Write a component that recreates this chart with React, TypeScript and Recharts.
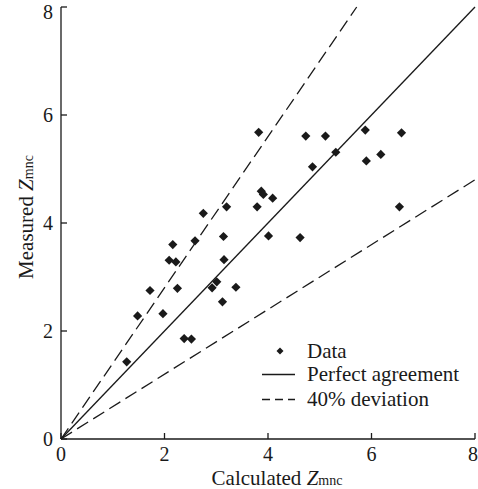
import React from 'react';
import {
  ComposedChart,
  Scatter,
  Line,
  XAxis,
  YAxis,
} from 'recharts';

const calculated = [
  3.82, 3.87, 3.91, 3.79, 3.2, 2.75, 4.01, 3.14, 2.59, 2.16, 2.09, 2.22,
  3.15, 1.72, 2.25, 2.92, 3.01, 3.38, 3.12, 1.48, 1.97, 2.38, 2.52, 1.27,
  4.73, 5.11, 5.88, 6.58, 5.31, 4.86, 5.9, 6.18, 4.09, 6.54, 4.62,
];
const measured = [
  5.68, 4.59, 4.53, 4.3, 4.3, 4.18, 3.76, 3.75, 3.67, 3.6, 3.31, 3.28,
  3.32, 2.75, 2.79, 2.8, 2.91, 2.81, 2.54, 2.28, 2.32, 1.86, 1.85, 1.43,
  5.61, 5.61, 5.72, 5.67, 5.31, 5.04, 5.15, 5.27, 4.46, 4.3, 3.73,
];

// reference lines: y = x and +/- 40 %
const perfectX = [0, 8];
const perfectY = [0, 8];
const upperX = [0, 5.714];
const upperY = [0, 8];
const lowerX = [0, 8];
const lowerY = [0, 4.8];

const ticks = [0, 2, 4, 6, 8];

const toPoints = (xs: number[], ys: number[]) => xs.map((x, i) => ({ x, y: ys[i] }));

const points = toPoints(calculated, measured);
const perfect = toPoints(perfectX, perfectY);
const upper = toPoints(upperX, upperY);
const lower = toPoints(lowerX, lowerY);

const FONT = "'Liberation Serif', 'DejaVu Serif', 'Times New Roman', serif";
const INK = '#1a1a1a';
const DASH = '13 6';

const Diamond = (props: any) => {
  const { cx, cy } = props;
  if (cx == null || cy == null) return null;
  const r = 4.6;
  return (
    <polygon
      points={`${cx},${cy - r} ${cx + r},${cy} ${cx},${cy + r} ${cx - r},${cy}`}
      fill={INK}
    />
  );
};

const LegendBox = () => (
  <svg width={220} height={80} style={{ fontFamily: FONT, display: 'block' }}>
    <polygon points="22,7.5 25.5,11 22,14.5 18.5,11" fill={INK} />
    <text x={49} y={18} fontSize={21} fill={INK} fontFamily={FONT}>Data</text>
    <line x1={4} y1={34.5} x2={37} y2={34.5} stroke={INK} strokeWidth={1.3} />
    <text x={49} y={41} fontSize={21} fill={INK} fontFamily={FONT}>Perfect agreement</text>
    <line x1={4} y1={59.5} x2={37} y2={59.5} stroke={INK} strokeWidth={1.3} strokeDasharray="8 5" />
    <text x={49} y={66} fontSize={21} fill={INK} fontFamily={FONT}>40% deviation</text>
  </svg>
);

const XTitle = () => (
  <text x={277} y={485} textAnchor="middle" fontSize={21} fill={INK} fontFamily={FONT}>
    Calculated <tspan fontStyle="italic">Z</tspan>
    <tspan fontSize={14}>mnc</tspan>
  </text>
);

const YTitle = () => (
  <text
    x={26}
    y={217}
    textAnchor="middle"
    fontSize={21}
    fill={INK}
    fontFamily={FONT}
    transform="rotate(-90 26 217)"
    dy={7}
  >
    Measured <tspan fontStyle="italic">Z</tspan>
    <tspan fontSize={14}>mnc</tspan>
  </text>
);

export default function App() {
  return (
    <div style={{ position: 'absolute', left: 0, top: 0, width: 478, height: 489, background: '#fff' }}>
      <ComposedChart
        width={478}
        height={489}
        margin={{ top: 7, right: 3, left: 0, bottom: 0 }}
      >
        <XAxis
          type="number"
          dataKey="x"
          domain={[0, 8]}
          ticks={ticks}
          height={50}
          tickSize={-6}
          tickMargin={14}
          stroke={INK}
          strokeWidth={1.3}
          tick={{ fill: INK, fontSize: 20, fontFamily: FONT }}
          label={{ content: () => <XTitle /> }}
        />
        <YAxis
          type="number"
          dataKey="y"
          domain={[0, 8]}
          ticks={ticks}
          width={61}
          tickSize={-6}
          tickMargin={14}
          stroke={INK}
          strokeWidth={1.3}
          tick={{ fill: INK, fontSize: 20, fontFamily: FONT }}
          label={{ content: () => <YTitle /> }}
        />
        <Line
          data={upper}
          dataKey="y"
          stroke={INK}
          strokeWidth={1.3}
          strokeDasharray={DASH}
          dot={false}
          activeDot={false}
          isAnimationActive={false}
        />
        <Line
          data={lower}
          dataKey="y"
          stroke={INK}
          strokeWidth={1.3}
          strokeDasharray={DASH}
          dot={false}
          activeDot={false}
          isAnimationActive={false}
        />
        <Line
          data={perfect}
          dataKey="y"
          stroke={INK}
          strokeWidth={1.3}
          dot={false}
          activeDot={false}
          isAnimationActive={false}
        />
        <Scatter data={points} dataKey="y" shape={<Diamond />} isAnimationActive={false} />
      </ComposedChart>
      <div style={{ position: 'absolute', left: 258, top: 340 }}>
        <LegendBox />
      </div>
    </div>
  );
}
